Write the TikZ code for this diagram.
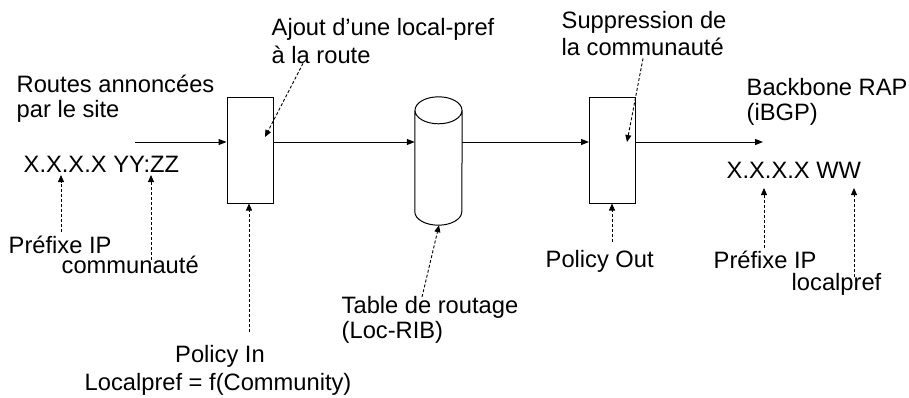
\documentclass[tikz,border=0pt]{standalone}
\usepackage{fontspec}
\setmainfont{Liberation Sans}
\usetikzlibrary{arrows.meta,calc}

\begin{document}
\begin{tikzpicture}[x=1pt,y=-1pt,
  lbl/.style={anchor=base west,inner sep=0pt,font=\fontsize{23.7}{28}\selectfont},
  filter/.style={draw,line width=1pt,minimum width=46pt,minimum height=106pt,inner sep=0pt},
  flow/.style={line width=1pt,-{Triangle[length=8pt,width=6pt]}},
  note/.style={line width=0.9pt,dash pattern=on 3pt off 2pt,-{Triangle[length=7pt,width=6pt]}}]
\useasboundingbox (0,0) rectangle (909,397);

% routing level of the main flow
\coordinate (lvl) at (0,142);

% policy boxes and the routing table
\node[filter] (pin)  at (250,150) {};
\node[filter] (pout) at (612.5,150) {};
\node[minimum width=47pt,minimum height=128pt,inner sep=0pt] (rib) at (438.5,161) {};
\draw[line width=1pt]
  ($(rib.north)+(0,13.5)$) ellipse [x radius=23.5, y radius=13.5]
  ($(rib.north west)+(0,13.5)$) -- ($(rib.south west)+(0,-13.5)$)
  arc [start angle=180, end angle=360, x radius=23.5, y radius=-13.5]
  -- ($(rib.north east)+(0,13.5)$);

% texts
\node[lbl] (rt1) at (16.5,92)  {Routes annoncées};
\node[lbl] (rt2) at (16.5,117) {par le site};
\node[lbl] (xin) at (23.5,172) {X.X.X.X YY:ZZ};
\node[lbl] (pf1) at (8.5,253)  {Préfixe IP};
\node[lbl] (com) at (61.5,273) {communauté};
\node[lbl] (aj1) at (271.5,35) {Ajout d’une local-pref};
\node[lbl] (aj2) at (271.5,63) {à la route};
\node[lbl] (pi1) at (175,362) {Policy In};
\node[lbl] (pi2) at (84.5,390)  {Localpref = f(Community)};
\node[lbl] (tb1) at (341.5,313) {Table de routage};
\node[lbl] (tb2) at (341.5,338) {(Loc-RIB)};
\node[lbl] (su1) at (561.5,28) {Suppression de};
\node[lbl] (su2) at (561.5,55) {la communauté};
\node[lbl] (po)  at (545.5,267) {Policy Out};
\node[lbl] (bb1) at (746.5,95)  {Backbone RAP};
\node[lbl] (bb2) at (746.5,120) {(iBGP)};
\node[lbl] (xout) at (726.5,178) {X.X.X.X WW};
\node[lbl] (pf2) at (713.5,268) {Préfixe IP};
\node[lbl] (lp)  at (791.5,290) {localpref};

% main flow
\coordinate (src) at (135,142);
\coordinate (dst) at (763,142);
\draw[flow] (src) -- (pin.west |- lvl);
\draw[flow] (pin.east |- lvl) -- (rib.west |- lvl);
\draw[flow] (rib.east |- lvl) -- (pout.west |- lvl);
\draw[flow] (pout.east |- lvl) -- (dst);

% annotations
\coordinate (ajtip) at (265,137);
\coordinate (sutip) at (627,142);
\draw[note] ($(aj2.south west)+(31.5,0)$) -- (ajtip);
\draw[note] ($(su2.south west)+(81.5,3)$) -- (sutip);
\draw[note] (61,232) coordinate (a1) -- (61,175) coordinate (a1t);
\draw[note] (151,260) coordinate (a2) -- (151,175) coordinate (a2t);
\draw[note] (249,332) coordinate (a3) -- (pin.south -| a3);
\draw[note] (422,297) coordinate (a4) -- ($(rib.south)+(0.5,0)$);
\draw[note] (612,242) coordinate (a5) -- (pout.south -| a5);
\draw[note] (764,248) coordinate (a6) -- (764,188) coordinate (a6t);
\draw[note] (854,277) coordinate (a7) -- (854,188) coordinate (a7t);
\end{tikzpicture}
\end{document}
